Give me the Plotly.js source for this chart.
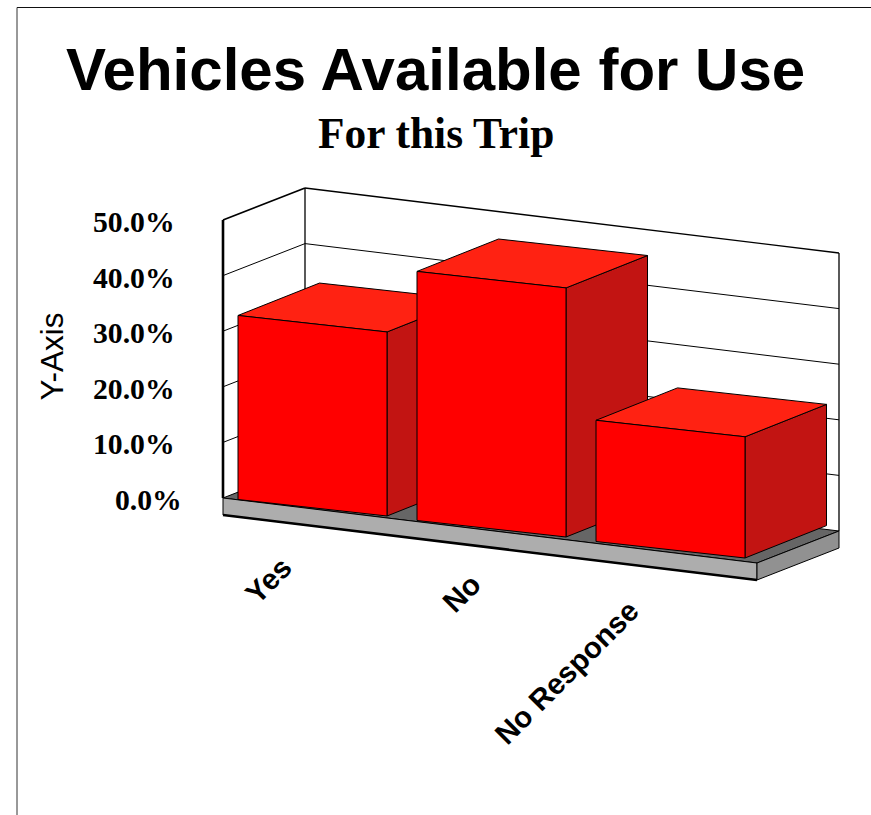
<!DOCTYPE html>
<html>
<head>
<meta charset="utf-8">
<script src="https://cdn.plot.ly/plotly-3.0.1.min.js"></script>
<style>html,body{margin:0;padding:0;background:#fff;overflow:hidden}</style>
</head>
<body>
<div id="chart" style="width:871px;height:815px"></div>
<script>
// ---- data ----
const categories = ['Yes', 'No', 'No Response'];
const values = [33.1, 44.8, 21.8];
const yTicks = [0, 10, 20, 30, 40, 50];
const yTickLabels = ['0.0%', '10.0%', '20.0%', '30.0%', '40.0%', '50.0%'];
const titleText = 'Vehicles Available for Use';
const subtitleText = 'For this Trip';
const yAxisTitle = 'Y-Axis';

// ---- oblique projection settings (screen px) ----
const PX_PER_UNIT = 5.56, ZERO_PX = 498;
const floorOrigin = [223, ZERO_PX], floorW = [534, 65], floorD = [82, -32];
const plateThick = 17 / PX_PER_UNIT;
const barOrigin = [238, 499.5], barStep = [179, 21], barW = [149, 16.5], barD = [81.5, -32.4];
const labelCentres = [[268, 580.5], [461, 593.5], [566, 672]];
const C = {front:'#ff0000', top:'#ff2212', side:'#c21412', floor:'#666666', plate:'#adadad', plateSide:'#919191'};

// pixel row to y-axis value
const yv = px => (ZERO_PX - px) / PX_PER_UNIT;
// floor frame: u,d in 0..1, v in axis value
function F(u, d, v) {
  return [floorOrigin[0] + u * floorW[0] + d * floorD[0],
          yv(floorOrigin[1] + u * floorW[1] + d * floorD[1]) + v];
}
// bar frame: category i, u,d in 0..1, v in axis value
function B(i, u, d, v) {
  return [barOrigin[0] + i * barStep[0] + u * barW[0] + d * barD[0],
          yv(barOrigin[1] + i * barStep[1] + u * barW[1] + d * barD[1]) + v];
}

const traces = [];
function poly(pts, fill, lineW, lineC) {
  const xs = pts.map(p => p[0]), ys = pts.map(p => p[1]);
  if (fill) { xs.push(xs[0]); ys.push(ys[0]); }
  traces.push({
    type: 'scatter', mode: 'lines', x: xs, y: ys, hoverinfo: 'skip', showlegend: false,
    fill: fill ? 'toself' : 'none', fillcolor: fill || undefined,
    line: {color: lineC || '#000', width: lineW === undefined ? 1 : lineW, simplify: false}
  });
}

// walls and gridlines
const maxTick = yTicks[yTicks.length - 1];
yTicks.filter(t => t > 0 && t < maxTick).forEach(t => poly([F(0,0,t), F(0,1,t), F(1,1,t)], null, 1));
poly([F(0,0,maxTick), F(0,1,maxTick)], null, 1.7);
poly([F(0,1,maxTick), F(1,1,maxTick)], null, 1.4);
poly([F(0,1,0), F(0,1,maxTick)], null, 1.3);
poly([F(1,1,0), F(1,1,maxTick)], null, 1.3);

// floor plate
poly([F(0,0,0), F(1,0,0), F(1,1,0), F(0,1,0)], C.floor, 1);
poly([F(0,0,0), F(1,0,0), F(1,0,-plateThick), F(0,0,-plateThick)], C.plate, 1);
poly([F(1,0,0), F(1,1,0), F(1,1,-plateThick), F(1,0,-plateThick)], C.plateSide, 1);
poly([F(0,0,-plateThick), F(1,0,-plateThick)], null, 2.6);
poly([F(0,0,0), F(0,0,maxTick)], null, 2.6);

// bars
values.forEach((v, i) => {
  poly([B(i,1,0,0), B(i,1,1,0), B(i,1,1,v), B(i,1,0,v)], C.side, 1);
  poly([B(i,0,0,v), B(i,1,0,v), B(i,1,1,v), B(i,0,1,v)], C.top, 1);
  poly([B(i,0,0,0), B(i,1,0,0), B(i,1,0,v), B(i,0,0,v)], C.front, 1);
});

// text
const annotations = [];
const serifBold = {family:'"Liberation Serif", serif', size:29.7, color:'#000'};
yTicks.forEach((t, k) => annotations.push({
  x: t === 0 ? 184 : 177, y: t - 2 / PX_PER_UNIT, xref:'x', yref:'y', text: '<b>' + yTickLabels[k] + '</b>',
  showarrow:false, xanchor:'right', yanchor:'middle', font: serifBold
}));
categories.forEach((c, i) => annotations.push({
  x: labelCentres[i][0], y: yv(labelCentres[i][1]), xref:'x', yref:'y', text:'<b>' + c + '</b>',
  textangle:-45, showarrow:false, xanchor:'center', yanchor:'middle',
  font:{family:'"Liberation Sans", sans-serif', size:29.5, color:'#000'}
}));
annotations.push({x:436, y:yv(132.5), xref:'x', yref:'y', text:'<b>' + subtitleText + '</b>', showarrow:false,
  xanchor:'center', yanchor:'middle', font:{family:'"Liberation Serif", serif', size:43.4, color:'#000'}});
annotations.push({x:51, y:yv(356.5), xref:'x', yref:'y', text:yAxisTitle, textangle:-90, showarrow:false,
  xanchor:'center', yanchor:'middle', font:{family:'"Liberation Sans", sans-serif', size:31.5, color:'#000'}});

const layout = {
  width:871, height:815, autosize:false, margin:{l:0,r:0,t:0,b:0,pad:0},
  paper_bgcolor:'#fff', plot_bgcolor:'#fff', showlegend:false, hovermode:false,
  title:{text:'<b>' + titleText + '</b>', x:435.5/871, y:1-69/815, xref:'paper', yref:'paper', xanchor:'center', yanchor:'middle',
    font:{family:'"Liberation Sans", sans-serif', size:60, color:'#000'}},
  xaxis:{range:[0,871], visible:false, fixedrange:true},
  yaxis:{range:[yv(815), yv(0)], visible:false, fixedrange:true},
  annotations,
  shapes:[
    {type:'line', xref:'paper', yref:'paper', x0:17/871, x1:1, y0:1-7.5/815, y1:1-7.5/815, line:{color:'#111', width:1}},
    {type:'line', xref:'paper', yref:'paper', x0:17/871, x1:17/871, y0:1-7.5/815, y1:0, line:{color:'#333', width:1}}
  ]
};
Plotly.newPlot('chart', traces, layout, {displayModeBar:false, staticPlot:true});
</script>
</body>
</html>
